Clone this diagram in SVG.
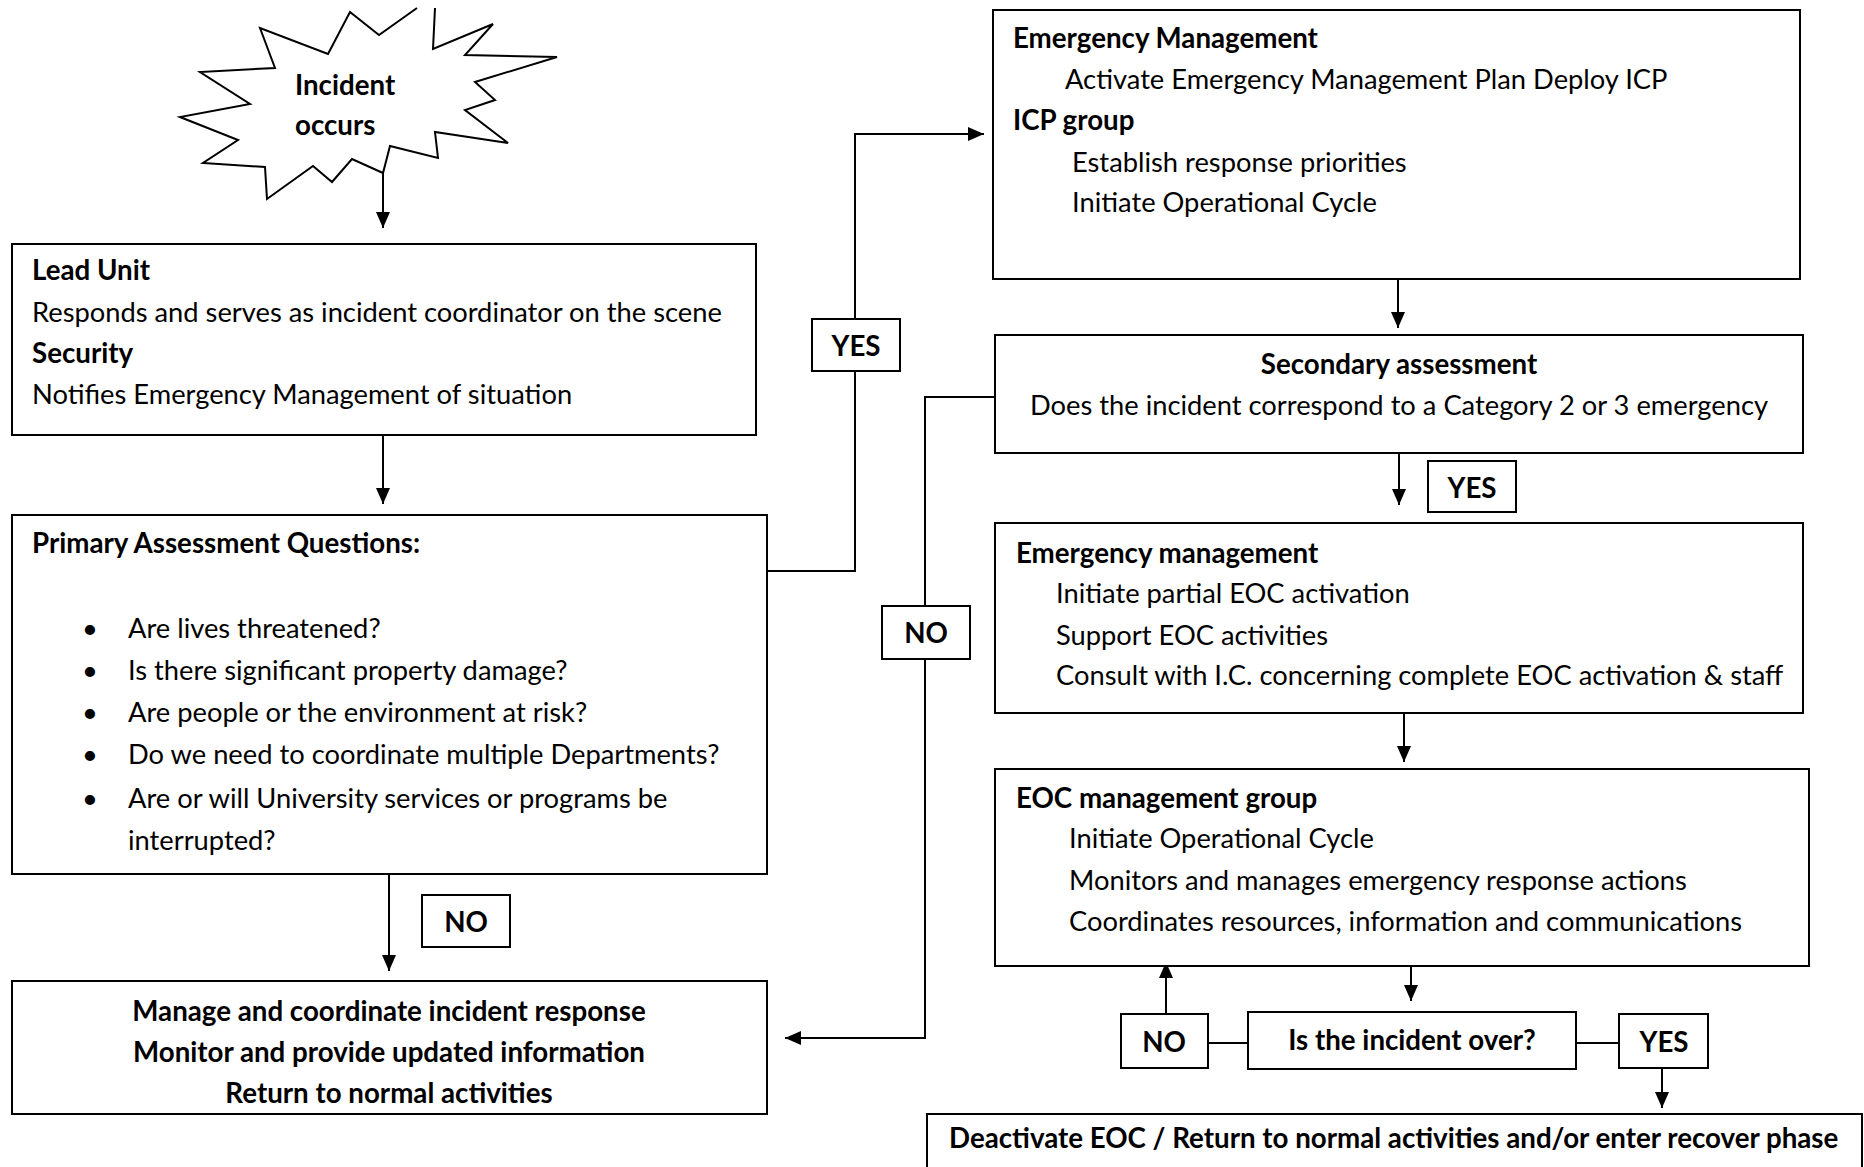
<svg xmlns="http://www.w3.org/2000/svg" width="1864" height="1167" viewBox="0 0 1864 1167">
<style>
.box{fill:#fff;stroke:#000;stroke-width:2}
.conn{fill:none;stroke:#000;stroke-width:2}
.t{font-family:Lato,"Liberation Sans",sans-serif;font-size:27.3px;fill:#000}
.b{font-weight:bold;font-size:27.7px}
.c{text-anchor:middle}
</style>
<defs>
<marker id="ah" markerUnits="userSpaceOnUse" viewBox="0 0 16 14" refX="16" refY="7" markerWidth="16" markerHeight="14" orient="auto">
<path d="M0,0 L16,7 L0,14 z" fill="#000"/>
</marker>
</defs>
<rect width="1864" height="1167" fill="#fff"/>
<g id="connectors">
<line class="conn" x1="383" y1="173" x2="383" y2="228" marker-end="url(#ah)"/>
<line class="conn" x1="383" y1="435" x2="383" y2="504" marker-end="url(#ah)"/>
<line class="conn" x1="389" y1="874" x2="389" y2="971" marker-end="url(#ah)"/>
<polyline class="conn" points="767,571 855,571 855,134 984,134" marker-end="url(#ah)"/>
<polyline class="conn" points="995,397 925,397 925,1038 785,1038" marker-end="url(#ah)"/>
<line class="conn" x1="1398" y1="279" x2="1398" y2="328" marker-end="url(#ah)"/>
<line class="conn" x1="1399" y1="453" x2="1399" y2="505" marker-end="url(#ah)"/>
<line class="conn" x1="1404" y1="713" x2="1404" y2="762" marker-end="url(#ah)"/>
<line class="conn" x1="1411" y1="966" x2="1411" y2="1001" marker-end="url(#ah)"/>
<line class="conn" x1="1166" y1="1014" x2="1166" y2="962" marker-end="url(#ah)"/>
<line class="conn" x1="1208" y1="1043" x2="1248" y2="1043"/>
<line class="conn" x1="1576" y1="1043" x2="1619" y2="1043"/>
<line class="conn" x1="1662" y1="1068" x2="1662" y2="1108" marker-end="url(#ah)"/>
</g>
<g id="incident">
<polyline class="conn" points="435,8 433,49 493,24 465,55 557,57 475,82 495,100 465,110 508,143 435,132 438,158 390,146 383,173 352,159 332,182 313,166 267,199 265,167 203,163 238,140 180,117 250,104 200,72 275,68 260,28 328,54 350,12 379,35 417,8"/>
<text class="t b" x="295" y="95">Incident</text>
<text class="t b" x="295" y="135">occurs</text>
</g>
<g id="lead-unit">
<rect class="box" x="12" y="244" width="744" height="191"/>
<text class="t b" x="32" y="280">Lead Unit</text>
<text class="t" x="32" y="322">Responds and serves as incident coordinator on the scene</text>
<text class="t b" x="32" y="363">Security</text>
<text class="t" x="32" y="404">Notifies Emergency Management of situation</text>
</g>
<g id="primary">
<rect class="box" x="12" y="515" width="755" height="359"/>
<text class="t b" x="32" y="553">Primary Assessment Questions:</text>
<text class="t" x="82" y="638">•</text><text class="t" x="128" y="638">Are lives threatened?</text>
<text class="t" x="82" y="680">•</text><text class="t" x="128" y="680">Is there significant property damage?</text>
<text class="t" x="82" y="722">•</text><text class="t" x="128" y="722">Are people or the environment at risk?</text>
<text class="t" x="82" y="764">•</text><text class="t" x="128" y="764">Do we need to coordinate multiple Departments?</text>
<text class="t" x="82" y="808">•</text><text class="t" x="128" y="808">Are or will University services or programs be</text>
<text class="t" x="128" y="850">interrupted?</text>
</g>
<g id="no-left">
<rect class="box" x="422" y="895" width="88" height="52"/>
<text class="t b c" x="466" y="932">NO</text>
</g>
<g id="manage">
<rect class="box" x="12" y="981" width="755" height="133"/>
<text class="t b c" x="389" y="1021">Manage and coordinate incident response</text>
<text class="t b c" x="389" y="1062">Monitor and provide updated information</text>
<text class="t b c" x="389" y="1103">Return to normal activities</text>
</g>
<g id="yes-mid">
<rect class="box" x="812" y="319" width="88" height="52"/>
<text class="t b c" x="856" y="356">YES</text>
</g>
<g id="no-mid">
<rect class="box" x="882" y="606" width="88" height="53"/>
<text class="t b c" x="926" y="643">NO</text>
</g>
<g id="em-top">
<rect class="box" x="993" y="10" width="807" height="269"/>
<text class="t b" x="1013" y="48">Emergency Management</text>
<text class="t" x="1065" y="89">Activate Emergency Management Plan Deploy ICP</text>
<text class="t b" x="1013" y="130">ICP group</text>
<text class="t" x="1072" y="172">Establish response priorities</text>
<text class="t" x="1072" y="212">Initiate Operational Cycle</text>
</g>
<g id="secondary">
<rect class="box" x="995" y="335" width="808" height="118"/>
<text class="t b c" x="1399" y="374">Secondary assessment</text>
<text class="t c" x="1399" y="415">Does the incident correspond to a Category 2 or 3 emergency</text>
</g>
<g id="yes-right">
<rect class="box" x="1428" y="461" width="88" height="51"/>
<text class="t b c" x="1472" y="498">YES</text>
</g>
<g id="em-mgmt">
<rect class="box" x="995" y="523" width="808" height="190"/>
<text class="t b" x="1016" y="563">Emergency management</text>
<text class="t" x="1056" y="603">Initiate partial EOC activation</text>
<text class="t" x="1056" y="645">Support EOC activities</text>
<text class="t" x="1056" y="685">Consult with I.C. concerning complete EOC activation &amp; staff</text>
</g>
<g id="eoc">
<rect class="box" x="995" y="769" width="814" height="197"/>
<text class="t b" x="1016" y="808">EOC management group</text>
<text class="t" x="1069" y="848">Initiate Operational Cycle</text>
<text class="t" x="1069" y="890">Monitors and manages emergency response actions</text>
<text class="t" x="1069" y="931">Coordinates resources, information and communications</text>
</g>
<g id="no-bottom">
<rect class="box" x="1121" y="1014" width="87" height="54"/>
<text class="t b c" x="1164" y="1052">NO</text>
</g>
<g id="is-over">
<rect class="box" x="1248" y="1012" width="328" height="57"/>
<text class="t b c" x="1412" y="1050">Is the incident over?</text>
</g>
<g id="yes-bottom">
<rect class="box" x="1619" y="1014" width="89" height="54"/>
<text class="t b c" x="1664" y="1052">YES</text>
</g>
<g id="deactivate">
<rect class="box" x="927" y="1114" width="935" height="70"/>
<text class="t b" x="949" y="1148">Deactivate EOC / Return to normal activities and/or enter recover phase</text>
</g>
</svg>
